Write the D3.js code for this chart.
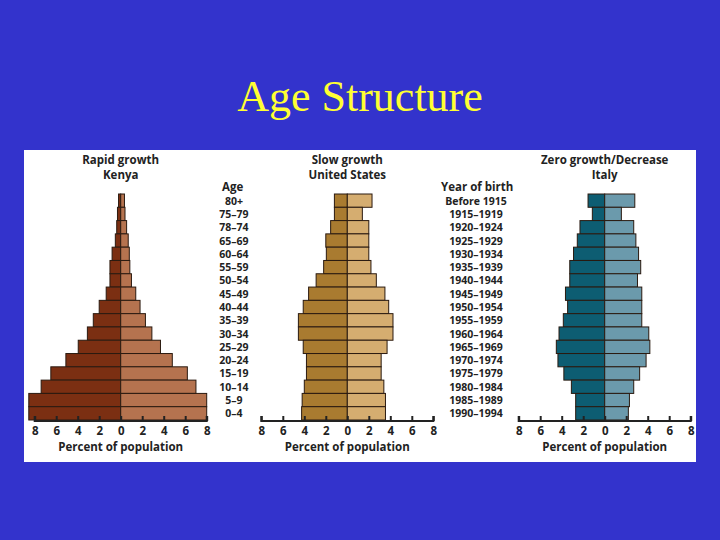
<!DOCTYPE html>
<html><head><meta charset="utf-8">
<script src="https://cdn.jsdelivr.net/npm/d3@7"></script>
<style>body{margin:0;background:#3333cc;}svg{display:block;}</style>
</head><body>
<svg id="chart" width="720" height="540"></svg>
<script>
// Age groups, top to bottom
const ages = ["80+","75–79","78–74","65–69","60–64","55–59","50–54","45–49","40–44","35–39","30–34","25–29","20–24","15–19","10–14","5–9","0–4"];
const births = ["Before 1915","1915–1919","1920–1924","1925–1929","1930–1934","1935–1939","1940–1944","1945–1949","1950–1954","1955–1959","1960–1964","1965–1969","1970–1974","1975–1979","1980–1984","1985–1989","1990–1994"];

// percent of population, male (left) and female (right)
const kenyaLeft  = [0.2,0.3,0.37,0.5,0.8,1.0,1.0,1.35,2.0,2.55,3.1,3.95,5.1,6.5,7.4,8.55,8.55];
const kenyaRight = [0.35,0.4,0.55,0.7,0.8,0.85,1.0,1.4,1.8,2.3,2.9,3.7,4.8,6.2,7.0,8.0,8.0];
const usLeft  = [1.2,1.2,1.55,2.0,1.95,2.2,2.9,3.6,4.1,4.55,4.55,4.1,3.8,3.8,4.0,4.2,4.25];
const usRight = [2.3,1.4,2.0,2.0,2.0,2.2,2.7,3.5,3.85,4.25,4.25,3.7,3.15,3.15,3.4,3.55,3.55];
const italyLeft  = [1.55,1.15,2.3,2.55,2.9,3.25,3.25,3.65,3.45,3.85,4.25,4.5,4.35,3.8,3.1,2.7,2.7];
const italyRight = [2.8,1.55,2.7,2.9,3.15,3.35,3.05,3.45,3.45,3.45,4.1,4.2,3.85,3.25,2.7,2.3,2.2];

const panels = [
  {title:["Rapid growth","Kenya"], cx:120.7, left:kenyaLeft, right:kenyaRight, cl:"#7b2f12", cr:"#b5734f"},
  {title:["Slow growth","United States"], cx:347.3, left:usLeft, right:usRight, cl:"#a97b30", cr:"#d5ad70"},
  {title:["Zero growth/Decrease","Italy"], cx:604.7, left:italyLeft, right:italyRight, cl:"#0d5d72", cr:"#6b9aac"}
];

const svg = d3.select("#chart");
const font = "'Open Sans', 'DejaVu Sans', sans-serif";

svg.append("text").attr("x", 360).attr("y", 111).attr("text-anchor", "middle")
  .attr("font-family", "'Liberation Serif', 'DejaVu Serif', serif").attr("font-size", 44)
  .attr("fill", "#ffff33").text("Age Structure");

svg.append("rect").attr("x", 24).attr("y", 150).attr("width", 672).attr("height", 312).attr("fill", "#fff");

const y = d3.scaleBand().domain(d3.range(ages.length)).range([194, 420]);

panels.forEach(p => {
  const x = d3.scaleLinear().domain([-8, 8]).range([p.cx - 86, p.cx + 86]);
  const g = svg.append("g");

  g.selectAll("text.t").data(p.title).enter().append("text")
    .attr("x", p.cx).attr("y", (d, i) => 164 + i * 15).attr("text-anchor", "middle")
    .attr("font-family", font).attr("font-weight", "bold").attr("font-size", 11.5)
    .attr("fill", "#222").text(d => d);

  g.selectAll("rect.l").data(p.left).enter().append("rect")
    .attr("x", d => x(-d)).attr("y", (d, i) => y(i))
    .attr("width", d => x(0) - x(-d)).attr("height", y.bandwidth())
    .attr("fill", p.cl).attr("stroke", "#2a1a10").attr("stroke-width", 1);
  g.selectAll("rect.r").data(p.right).enter().append("rect")
    .attr("x", x(0)).attr("y", (d, i) => y(i))
    .attr("width", d => x(d) - x(0)).attr("height", y.bandwidth())
    .attr("fill", p.cr).attr("stroke", "#2a1a10").attr("stroke-width", 1);

  const axis = g.append("g").attr("transform", "translate(0,421)")
    .call(d3.axisBottom(x).tickValues(d3.range(-8, 9, 2)).tickSize(-5).tickPadding(6)
      .tickFormat(d => Math.abs(d)));
  axis.select(".domain").attr("stroke", "#222").attr("stroke-width", 2).attr("d", `M${x(-8)},-5V0H${x(8)}V-5`);
  axis.selectAll(".tick line").attr("stroke", "#222").attr("stroke-width", 2);
  axis.selectAll(".tick text").attr("font-family", font).attr("font-weight", "bold")
    .attr("font-size", 11.5).attr("fill", "#222");

  g.append("text").attr("x", p.cx).attr("y", 451).attr("text-anchor", "middle")
    .attr("font-family", font).attr("font-weight", "bold").attr("font-size", 11.5)
    .attr("fill", "#222").text("Percent of population");
});

// row labels
function labels(list, cx, header, hx) {
  svg.append("text").attr("x", hx).attr("y", 191).attr("font-family", font)
    .attr("font-weight", "bold").attr("font-size", 11.5).attr("fill", "#222").text(header);
  svg.selectAll(null).data(list).enter().append("text")
    .attr("x", cx).attr("y", (d, i) => y(i) + y.bandwidth() / 2 + 4)
    .attr("text-anchor", "middle").attr("font-family", font).attr("font-weight", "bold")
    .attr("font-size", 10.5).attr("fill", "#222").text(d => d);
}
labels(ages, 234, "Age", 222);
labels(births, 476, "Year of birth", 441);
</script>
</body></html>
